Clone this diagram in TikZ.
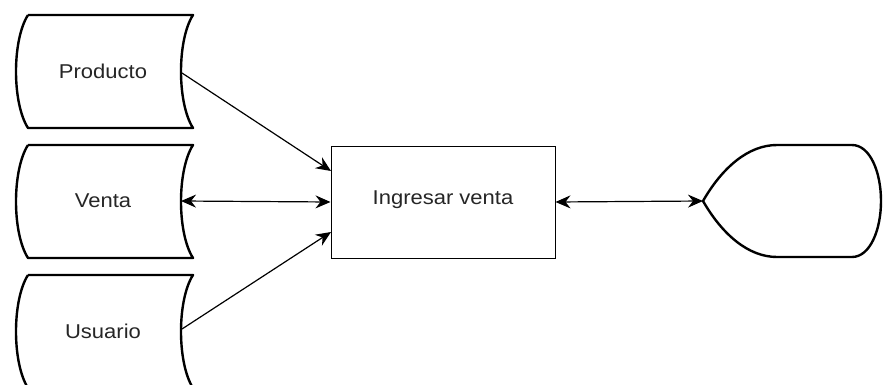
\documentclass[tikz,border=0pt]{standalone}
\usepackage{fontspec}
\setmainfont{Liberation Sans}
\usetikzlibrary{arrows.meta}
\begin{document}
\begin{tikzpicture}[x=1pt,y=-1pt,
  store/.style={line width=2.4pt,line join=round},
  lbl/.style={font=\fontsize{20}{24}\selectfont,xscale=1.1,text=black!85},
  proc/.style={draw,line width=1pt,minimum width=224pt,minimum height=112pt,inner sep=0pt},
  tip/.tip={Stealth[length=15pt,width=13pt,inset=5pt]},
  link/.style={line width=1.2pt,-tip},
  dlink/.style={line width=1.2pt,tip-tip}]
\useasboundingbox (0,0) rectangle (883,385);
\fill[white] (0,0) rectangle (883,385);
\clip (0,0) rectangle (883,385);
% stored data shapes
\foreach \yy in {15,145,275}{
  \draw[store] (28,\yy) -- (193,\yy)
    .. controls (177,\yy+25) and (177,\yy+88) .. (193,\yy+113)
    -- (28,\yy+113)
    .. controls (12,\yy+88) and (12,\yy+25) .. (28,\yy);
}
\node[lbl] (prod) at (103,71) {Producto};
\node[lbl] (vent) at (103,201) {Venta};
\node[lbl] (usu) at (103,331) {Usuario};
\coordinate (prodR) at (182,73);
\coordinate (ventR) at (181,201);
\coordinate (usuR) at (182,329);
% process
\node[proc] (ing) at (443,202) {};
\node[lbl] (ingt) at (443,200) {Ingresar venta};
\coordinate (ingA) at (331,171);
\coordinate (ingC) at (331,232);
% display
\draw[store] (703,201) .. controls (722,168) and (748,145) .. (777,145)
  -- (852,145) .. controls (870,145) and (881,172) .. (881,201)
  .. controls (881,230) and (870,257) .. (852,257)
  -- (777,257) .. controls (748,257) and (722,234) .. (703,201) -- cycle;
\coordinate (disp) at (703,201);
% connectors
\draw[link] (prodR) -- (ingA);
\draw[dlink] (ventR) -- (ing.west);
\draw[link] (usuR) -- (ingC);
\draw[dlink] (ing.east) -- (disp);
\end{tikzpicture}
\end{document}
